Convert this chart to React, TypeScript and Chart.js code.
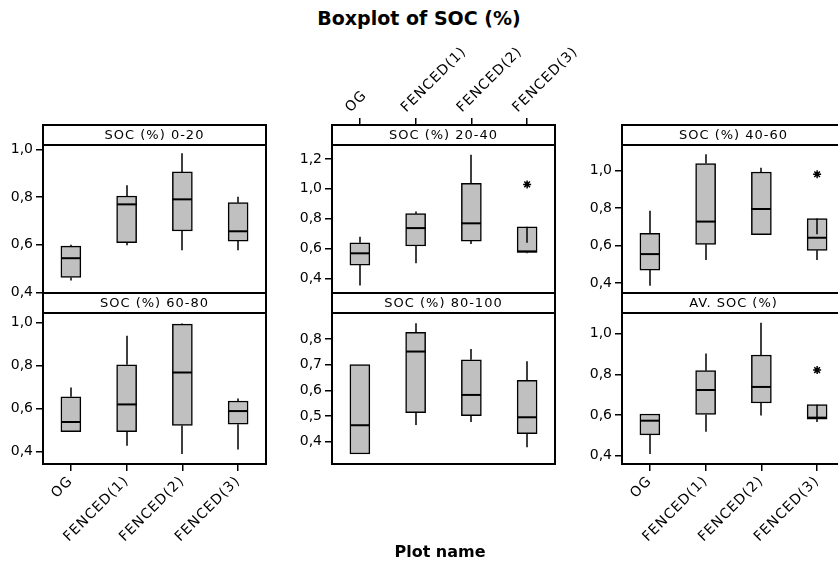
import React, { useEffect, useRef } from "react";
import { Chart, registerables } from "chart.js";

Chart.register(...registerables);
Chart.defaults.font.family = "'DejaVu Sans', Verdana, sans-serif";

const categories = ["OG", "FENCED(1)", "FENCED(2)", "FENCED(3)"];

// each entry: [lower whisker, Q1, median, Q3, upper whisker]
const soc0to20 = [
  [0.449, 0.462, 0.543, 0.594, 0.599],
  [0.597, 0.608, 0.769, 0.804, 0.849],
  [0.576, 0.657, 0.79, 0.905, 0.983],
  [0.576, 0.615, 0.656, 0.776, 0.801],
];
const soc20to40 = [
  [0.353, 0.489, 0.568, 0.639, 0.679],
  [0.501, 0.617, 0.737, 0.834, 0.849],
  [0.63, 0.65, 0.769, 1.037, 1.229],
  [0.568, 0.574, 0.581, 0.746, 0.639],
];
const soc40to60 = [
  [0.386, 0.469, 0.554, 0.664, 0.785],
  [0.523, 0.606, 0.727, 1.036, 1.085],
  [0.657, 0.657, 0.794, 0.991, 1.014],
  [0.523, 0.574, 0.641, 0.743, 0.659],
];
const soc60to80 = [
  [0.492, 0.492, 0.537, 0.655, 0.698],
  [0.426, 0.492, 0.619, 0.804, 0.939],
  [0.388, 0.521, 0.768, 0.994, 0.997],
  [0.409, 0.527, 0.588, 0.635, 0.647],
];
const soc80to100 = [
  [0.352, 0.352, 0.464, 0.7, 0.7],
  [0.465, 0.513, 0.751, 0.826, 0.861],
  [0.477, 0.501, 0.582, 0.719, 0.761],
  [0.378, 0.431, 0.495, 0.639, 0.713],
];
const avSoc = [
  [0.408, 0.502, 0.572, 0.605, 0.605],
  [0.518, 0.603, 0.723, 0.818, 0.903],
  [0.597, 0.659, 0.738, 0.895, 1.054],
  [0.566, 0.58, 0.587, 0.651, 0.59],
];

const noOutliers = [null, null, null, null];
const outliers20to40 = [null, null, null, 1.03];
const outliers40to60 = [null, null, null, 0.979];
const outliersAv = [null, null, null, 0.821];

const ticks0to20 = [0.4, 0.6, 0.8, 1.0];
const ticks20to40 = [0.4, 0.6, 0.8, 1.0, 1.2];
const ticks40to60 = [0.4, 0.6, 0.8, 1.0];
const ticks60to80 = [0.4, 0.6, 0.8, 1.0];
const ticks80to100 = [0.4, 0.5, 0.6, 0.7, 0.8];
const ticksAv = [0.4, 0.6, 0.8, 1.0];

const chartTitle = "Boxplot of SOC (%)";
const xTitle = "Plot name";

type Spec = {
  title: string;
  stats: number[][];
  outliers: (number | null)[];
  ticks: number[];
  min: number;
  max: number;
  left: number;
  top: number;
  bottom: number;
  xAxis: "none" | "top" | "bottom";
};

const panels: Spec[] = [
  { title: "SOC (%) 0-20", stats: soc0to20, outliers: noOutliers, ticks: ticks0to20, min: 0.397, max: 1.102, left: 43, top: 125, bottom: 293, xAxis: "none" },
  { title: "SOC (%) 20-40", stats: soc20to40, outliers: outliers20to40, ticks: ticks20to40, min: 0.302, max: 1.428, left: 332, top: 125, bottom: 293, xAxis: "top" },
  { title: "SOC (%) 40-60", stats: soc40to60, outliers: outliers40to60, ticks: ticks40to60, min: 0.347, max: 1.241, left: 622, top: 125, bottom: 293, xAxis: "none" },
  { title: "SOC (%) 60-80", stats: soc60to80, outliers: noOutliers, ticks: ticks60to80, min: 0.341, max: 1.139, left: 43, top: 293, bottom: 464, xAxis: "bottom" },
  { title: "SOC (%) 80-100", stats: soc80to100, outliers: noOutliers, ticks: ticks80to100, min: 0.313, max: 0.979, left: 332, top: 293, bottom: 464, xAxis: "none" },
  { title: "AV. SOC (%)", stats: avSoc, outliers: outliersAv, ticks: ticksAv, min: 0.359, max: 1.2, left: 622, top: 293, bottom: 464, xAxis: "bottom" },
];

const PANEL_W = 223;
const HEADER_H = 20;
const PAD_L = 60;
const PAD_R = 60;
const PAD_V = 100;
const Y_AXIS_W = 45;

function Panel({ spec }: { spec: Spec }) {
  const ref = useRef<HTMLCanvasElement>(null);
  const w = PAD_L + PANEL_W + PAD_R;
  const h = PAD_V + (spec.bottom - spec.top) + PAD_V;

  useEffect(() => {
    const canvas = ref.current;
    if (!canvas) return;
    const decor = {
      id: "panelDecor",
      beforeDraw(c: any) {
        const xs = c.scales.x;
        if (xs && !xs.__spaced) {
          const orig = xs.drawLabels.bind(xs);
          xs.drawLabels = (area: any) => {
            const ctx = c.ctx;
            ctx.save();
            (ctx as any).letterSpacing = "1px";
            orig(area);
            ctx.restore();
          };
          xs.__spaced = true;
        }
      },
      afterDatasetsDraw(c: any) {
        const ctx = c.ctx;
        const xs = c.scales.x;
        const ys = c.scales.y;
        ctx.save();
        ctx.strokeStyle = "#000";
        spec.stats.forEach((s, i) => {
          const cx = Math.round(xs.getPixelForValue(i));
          ctx.lineWidth = 1.5;
          ctx.beginPath();
          ctx.moveTo(cx, ys.getPixelForValue(s[3]));
          ctx.lineTo(cx, ys.getPixelForValue(s[4]));
          ctx.moveTo(cx, ys.getPixelForValue(s[1]));
          ctx.lineTo(cx, ys.getPixelForValue(s[0]));
          ctx.stroke();
          ctx.lineWidth = 2;
          ctx.beginPath();
          const my = ys.getPixelForValue(s[2]);
          ctx.moveTo(cx - 10, my);
          ctx.lineTo(cx + 10, my);
          ctx.stroke();
        });
        ctx.restore();
      },
      afterDraw(c: any) {
        const ctx = c.ctx;
        const a = c.chartArea;
        ctx.save();
        ctx.strokeStyle = "#000";
        ctx.lineWidth = 2;
        ctx.strokeRect(a.left, a.top, a.right - a.left, a.bottom - a.top);
        ctx.beginPath();
        ctx.moveTo(a.left, a.top + HEADER_H);
        ctx.lineTo(a.right, a.top + HEADER_H);
        ctx.stroke();
        ctx.fillStyle = "#000";
        ctx.font = "13px 'DejaVu Sans'";
        (ctx as any).letterSpacing = "1px";
        ctx.textAlign = "center";
        ctx.textBaseline = "middle";
        ctx.fillText(spec.title, (a.left + a.right) / 2, a.top + HEADER_H / 2 + 1);
        ctx.restore();
      },
    };

    const xDisplay = spec.xAxis !== "none";
    const chart = new Chart(canvas, {
      type: "bar",
      data: {
        labels: categories,
        datasets: [
          {
            type: "bar",
            data: spec.stats.map((s) => [s[1], s[3]]) as any,
            backgroundColor: "#c0c0c0",
            borderColor: "#000",
            borderWidth: 1.5,
            borderSkipped: false,
            barThickness: 20,
          } as any,
          {
            type: "line",
            data: spec.outliers as any,
            showLine: false,
            pointStyle: "star",
            pointRadius: 4,
            pointBorderWidth: 1.5,
            pointBorderColor: "#000",
            borderColor: "#000",
          } as any,
        ],
      },
      options: {
        responsive: false,
        animation: false,
        events: [],
        layout: {
          padding: {
            left: PAD_L - Y_AXIS_W,
            right: PAD_R,
            top: spec.xAxis === "top" ? 0 : PAD_V,
            bottom: spec.xAxis === "bottom" ? 0 : PAD_V,
          },
        },
        plugins: { legend: { display: false }, tooltip: { enabled: false } },
        scales: {
          x: {
            type: "category",
            position: spec.xAxis === "top" ? "top" : "bottom",
            display: xDisplay,
            offset: true,
            grid: {
              offset: false,
              drawOnChartArea: false,
              drawTicks: true,
              tickLength: 7,
              color: "#000",
              lineWidth: 1.5,
            },
            border: { display: false },
            ticks: {
              autoSkip: false,
              maxRotation: 45,
              minRotation: 45,
              color: "#000",
              font: { size: 14 },
              padding: 2,
            },
            afterFit: (scale: any) => {
              scale.height = xDisplay ? PAD_V : 0;
            },
          },
          y: {
            type: "linear",
            min: spec.min,
            max: spec.max,
            grid: {
              drawOnChartArea: false,
              drawTicks: true,
              tickLength: 7,
              color: "#000",
              lineWidth: 1.5,
            },
            border: { display: false },
            afterBuildTicks: (scale: any) => {
              scale.ticks = spec.ticks.map((v) => ({ value: v }));
            },
            ticks: {
              autoSkip: false,
              color: "#000",
              font: { size: 14 },
              padding: 3,
              callback: (v: any) => Number(v).toFixed(1).replace(".", ","),
            },
            afterFit: (scale: any) => {
              scale.width = Y_AXIS_W;
            },
          },
        },
      },
      plugins: [decor],
    } as any);
    return () => chart.destroy();
  }, [spec]);

  return (
    <canvas
      ref={ref}
      width={w}
      height={h}
      style={{
        position: "absolute",
        left: spec.left - PAD_L,
        top: spec.top - PAD_V,
        width: w,
        height: h,
      }}
    />
  );
}

export default function App() {
  return (
    <div
      style={{
        position: "fixed",
        left: 0,
        top: 0,
        width: 838,
        height: 569,
        overflow: "hidden",
        background: "#fff",
      }}
    >
      <div
        style={{
          position: "absolute",
          left: 0,
          top: 8,
          width: 838,
          textAlign: "center",
          font: "bold 19px 'DejaVu Sans'",
          lineHeight: "20px",
          color: "#000",
        }}
      >
        {chartTitle}
      </div>
      {panels.map((p, i) => (
        <Panel key={i} spec={p} />
      ))}
      <div
        style={{
          position: "absolute",
          left: 340,
          top: 542,
          width: 200,
          textAlign: "center",
          font: "bold 16px 'DejaVu Sans'",
          lineHeight: "20px",
          color: "#000",
        }}
      >
        {xTitle}
      </div>
    </div>
  );
}
